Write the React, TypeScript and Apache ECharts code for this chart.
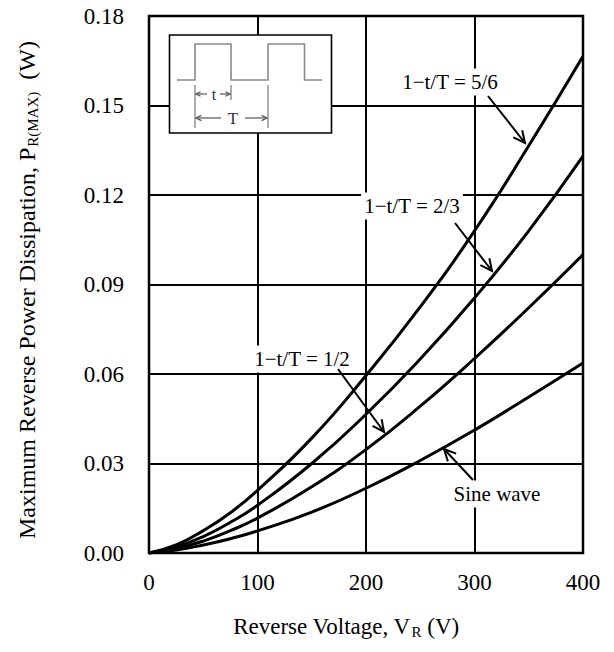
import React, { useEffect, useRef } from "react";
import * as echarts from "echarts";

// Reverse voltage (V)
const voltages = [0, 25, 50, 75, 100, 150, 200, 250, 300, 350, 400];
// Maximum reverse power dissipation (W)
const duty56 = [0, 0.0027, 0.0075, 0.0135, 0.021, 0.0385, 0.0595, 0.0825, 0.108, 0.1365, 0.1665];
const duty23 = [0, 0.002, 0.0055, 0.0103, 0.016, 0.03, 0.0465, 0.065, 0.0855, 0.108, 0.133];
const duty12 = [0, 0.0015, 0.004, 0.0075, 0.0117, 0.0222, 0.0347, 0.0492, 0.0652, 0.0822, 0.1];
const sineWave = [0, 0.001, 0.0027, 0.0048, 0.0074, 0.0137, 0.0217, 0.031, 0.0412, 0.0523, 0.0637];

const seriesNames = ["1−t/T = 5/6", "1−t/T = 2/3", "1−t/T = 1/2", "Sine wave"];
const seriesValues = [duty56, duty23, duty12, sineWave];

const FONT = "'Liberation Serif', 'Times New Roman', serif";

function arrow(x1: number, y1: number, x2: number, y2: number, color = "#000", width = 2, len = 13) {
  const ang = Math.atan2(y2 - y1, x2 - x1);
  const spread = 0.45;
  const p1 = [x2 - len * Math.cos(ang - spread), y2 - len * Math.sin(ang - spread)];
  const p2 = [x2 - len * Math.cos(ang + spread), y2 - len * Math.sin(ang + spread)];
  return [
    { type: "line", z: 20, shape: { x1, y1, x2, y2 }, style: { stroke: color, lineWidth: width } },
    { type: "polyline", z: 20, shape: { points: [p1, [x2, y2], p2] }, style: { stroke: color, lineWidth: width, fill: null } },
  ];
}

function label(text: string, x: number, y: number) {
  return {
    type: "text",
    z: 20,
    x,
    y,
    style: {
      text,
      fontSize: 21,
      fontFamily: FONT,
      fill: "#000",
      align: "center",
      verticalAlign: "middle",
      backgroundColor: "#fff",
      padding: [3, 3],
    },
  };
}

export default function App() {
  const ref = useRef<HTMLDivElement>(null);

  useEffect(() => {
    document.body.style.margin = "0";
    const chart = echarts.init(ref.current!, undefined, { renderer: "svg" });
    const gray = "#8a8a8a";
    const dark = "#555";

    const inset = [
      { type: "rect", z: 15, shape: { x: 169.5, y: 35, width: 162, height: 98 }, style: { fill: "#fff", stroke: "#000", lineWidth: 1.6 } },
      {
        type: "polyline",
        z: 16,
        shape: {
          points: [[177, 80], [195, 80], [195, 44], [231, 44], [231, 80], [268, 80], [268, 44], [304.5, 44], [304.5, 80], [322, 80]],
        },
        style: { stroke: gray, lineWidth: 1.6, fill: null },
      },
      { type: "line", z: 16, shape: { x1: 195, y1: 85, x2: 195, y2: 128 }, style: { stroke: gray, lineWidth: 1.4 } },
      { type: "line", z: 16, shape: { x1: 231, y1: 85, x2: 231, y2: 100 }, style: { stroke: gray, lineWidth: 1.4 } },
      { type: "line", z: 16, shape: { x1: 268, y1: 85, x2: 268, y2: 128 }, style: { stroke: gray, lineWidth: 1.4 } },
      ...arrow(207, 94, 196, 94, dark, 1.2, 5),
      ...arrow(220, 94, 230, 94, dark, 1.2, 5),
      ...arrow(221, 118, 196, 118, dark, 1.2, 6),
      ...arrow(245, 118, 267, 118, dark, 1.2, 6),
      { type: "text", z: 16, x: 214, y: 94, style: { text: "t", fontSize: 16, fontFamily: FONT, fill: "#333", align: "center", verticalAlign: "middle" } },
      { type: "text", z: 16, x: 233, y: 118, style: { text: "T", fontSize: 17, fontFamily: FONT, fill: "#333", align: "center", verticalAlign: "middle" } },
    ];

    const annotations = [
      label(seriesNames[0], 450, 82),
      label(seriesNames[1], 412, 206),
      label(seriesNames[2], 302, 359),
      label(seriesNames[3], 497, 494),
      ...arrow(488, 96, 525, 143),
      ...arrow(455, 223, 492, 271),
      ...arrow(338, 369, 384, 432),
      ...arrow(473, 480, 444, 449),
    ];

    const titles = [
      {
        type: "text",
        z: 20,
        x: 346,
        y: 626,
        style: {
          text: "{a|Reverse Voltage, V}{s|R}{a| (V)}",
          align: "center",
          verticalAlign: "middle",
          rich: {
            a: { fontSize: 23, fontFamily: FONT, fill: "#000" },
            s: { fontSize: 15, fontFamily: FONT, fill: "#000", padding: [12, 0, 0, 1] },
          },
        },
      },
      {
        type: "text",
        z: 20,
        x: 27,
        y: 290,
        rotation: Math.PI / 2,
        style: {
          text: "{a|Maximum Reverse Power Dissipation, P}{s|R(MAX)}{a|  (W)}",
          align: "center",
          verticalAlign: "middle",
          rich: {
            a: { fontSize: 24, fontFamily: FONT, fill: "#000" },
            s: { fontSize: 15, fontFamily: FONT, fill: "#000", padding: [12, 0, 0, 1] },
          },
        },
      },
    ];

    chart.setOption({
      animation: false,
      backgroundColor: "#fff",
      grid: { left: 149, top: 16, width: 434, height: 537, show: true, borderColor: "#000", borderWidth: 2.5, backgroundColor: "transparent" },
      xAxis: {
        type: "value",
        min: 0,
        max: 400,
        interval: 100,
        axisLine: { show: false },
        axisTick: { show: false },
        splitLine: { show: true, lineStyle: { color: "#000", width: 2 } },
        axisLabel: { fontSize: 23, fontFamily: FONT, color: "#000", margin: 18, showMinLabel: true, showMaxLabel: true },
      },
      yAxis: {
        type: "value",
        min: 0,
        max: 0.18,
        interval: 0.03,
        axisLine: { show: false },
        axisTick: { show: false },
        splitLine: { show: true, lineStyle: { color: "#000", width: 2 } },
        axisLabel: {
          fontSize: 23,
          fontFamily: FONT,
          color: "#000",
          margin: 25,
          showMinLabel: true,
          showMaxLabel: true,
          formatter: (v: number) => v.toFixed(2),
        },
      },
      series: seriesValues.map((vals, i) => ({
        name: seriesNames[i],
        type: "line",
        smooth: 0.5,
        showSymbol: false,
        symbol: "none",
        lineStyle: { color: "#000", width: 3 },
        data: voltages.map((v, j) => [v, vals[j]]),
        z: 5,
      })),
      graphic: [...inset, ...annotations, ...titles],
    });

    return () => chart.dispose();
  }, []);

  return <div ref={ref} style={{ width: 614, height: 652 }} />;
}
